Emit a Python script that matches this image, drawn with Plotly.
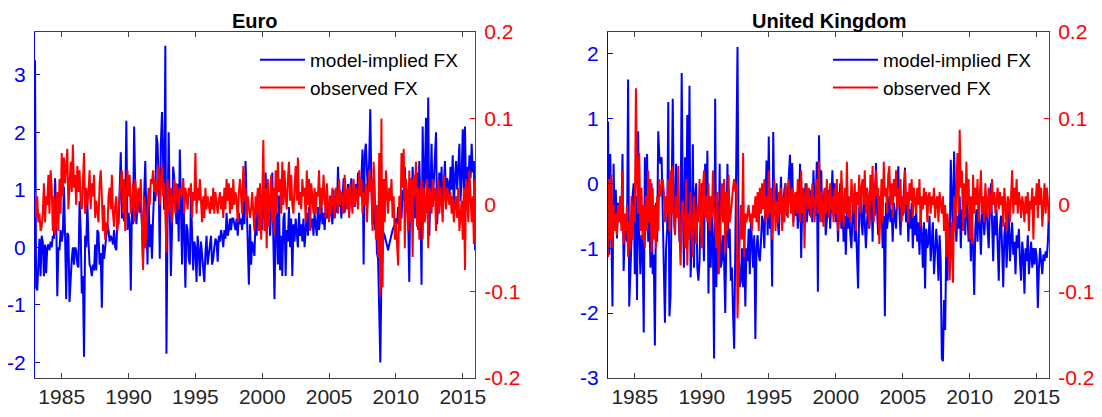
import numpy as np
import plotly.graph_objects as go

start_year = 1983
titles = ["Euro", "United Kingdom"]
legend_names = ["model-implied FX", "observed FX"]
x_tick_vals = [1985, 1990, 1995, 2000, 2005, 2010, 2015]
x_tick_text = ["1985", "1990", "1995", "2000", "2005", "2010", "2015"]
euro_left_ticks = [-2, -1, 0, 1, 2, 3]
euro_left_text = ["-2", "-1", "0", "1", "2", "3"]
uk_left_ticks = [-3, -2, -1, 0, 1, 2]
uk_left_text = ["-3", "-2", "-1", "0", "1", "2"]
right_ticks = [-0.2, -0.1, 0, 0.1, 0.2]
right_text = ["-0.2", "-0.1", "0", "0.1", "0.2"]

# Euro: model-implied FX (left axis), monthly 1983-2015
euro_model = [
    3.25, -0.70, -0.75, -0.30, 0.15, -0.50, 0.20, 0.10, -0.50, 0.05, -0.45, 0.00,
    0.05, -0.05, 0.10, 0.00, 0.20, 0.15, 1.20, 0.60, -0.85, 0.00, -0.05, 0.30,
    0.10, 0.25, 1.05, 0.20, -0.90, 0.25, 0.20, -0.95, -0.50, -0.20, 0.00, -0.30,
    0.00, -0.05, -0.30, -0.35, 0.80, 0.30, -0.80, -0.50, -1.90, 0.20, 0.00, 0.80,
    0.10, -0.30, -0.35, -0.50, -0.30, -0.40, 0.05, -0.40, 0.30, 0.25, -0.30, -0.10,
    -1.05, 0.05, -0.20, 0.00, 0.10, 0.40, 0.30, 0.10, 0.20, 0.15, 0.05, 0.30,
    0.00, -0.05, 0.50, 0.40, 1.00, 1.65, 0.50, 0.80, 0.45, 0.65, 2.20, 0.30,
    0.60, 0.40, -0.75, 0.65, 0.40, 2.10, 1.00, 0.40, 0.70, 1.00, 0.60, 0.80,
    0.40, -0.30, 0.90, 1.50, 0.50, -0.30, 0.90, 0.00, 0.40, -0.20, 0.50, 1.00,
    0.80, 1.95, 1.80, 1.20, -0.20, 1.80, 2.35, 1.50, 0.65, 3.50, -1.85, 0.50,
    2.00, 0.60, -0.50, 0.30, 1.40, 1.20, 0.60, 0.40, 1.10, 0.10, 1.70, 0.20,
    -0.30, 1.20, -0.20, -0.70, 0.40, 0.30, -0.20, -0.30, 0.90, 0.00, -0.40, 0.10,
    0.00, -0.60, 0.20, -0.05, -0.50, 0.10, -0.10, -0.30, -0.60, -0.10, 0.20, -0.30,
    -0.10, 0.00, 0.20, -0.30, -0.20, 0.00, 0.15, 0.10, -0.25, 0.20, 0.10, 0.30,
    0.20, 0.00, 0.30, 0.15, 0.60, 0.20, 0.30, 0.50, 0.30, 0.50, 0.50, 0.40,
    0.30, 0.50, 0.20, 0.60, 0.40, 0.50, 0.30, 0.80, 0.40, 1.50, 0.80, 0.20,
    -0.65, 0.40, -0.30, 0.10, 0.00, -0.15, 0.50, 0.20, 0.95, 0.40, 0.30, 0.60,
    0.30, 0.90, 0.50, 1.30, 0.70, 0.40, 0.90, 0.20, 0.60, 1.30, 0.10, -0.90,
    0.40, 0.60, -0.30, 0.90, -0.40, 0.20, -0.50, 0.50, 0.60, -0.50, 0.30, 0.10,
    0.70, 0.00, 0.50, -0.50, 0.40, 0.10, 0.50, 0.30, 0.00, 0.60, 0.20, 0.40,
    0.10, 0.50, 0.00, 0.30, 0.60, 0.20, 0.70, 0.30, 0.40, 0.50, 0.20, 0.60,
    0.40, 0.20, 0.70, 0.30, 0.50, 0.80, 0.40, 0.60, 0.30, 0.70, 0.50, 0.80,
    0.50, 0.90, 0.60, 0.40, 1.00, 0.50, 0.80, 0.60, 1.40, 0.70, 1.00, 0.50,
    0.80, 1.20, 0.60, 1.00, 0.70, 1.10, 0.60, 0.90, 1.20, 0.80, 1.00, 0.70,
    1.10, 0.80, 1.30, 0.90, 1.00, 1.20, 1.70, -0.30, 1.60, 1.80, 1.20, 0.90,
    1.50, 2.40, 1.00, 0.40, 0.80, 0.30, 0.60, -0.10, -0.20, -1.40, -2.00, -0.50,
    0.00, 0.25, 0.20, 0.10, 0.00, -0.05, 0.05, 0.15, 0.20, 0.30, 0.35, 0.40,
    0.50, 0.40, 0.70, 0.60, 0.90, 0.50, 1.00, 0.80, 1.40, 0.60, 1.00, 0.50,
    -0.60, 1.20, 0.70, 1.40, 0.90, 0.50, 1.00, 1.30, 0.30, 1.50, 0.80, -0.65,
    2.10, 0.90, 1.20, 2.25, 0.60, 2.60, 0.20, 1.30, 1.80, 0.70, 1.20, 1.50,
    2.00, 0.40, 0.90, 1.30, 0.80, 1.40, 0.60, 1.10, 1.50, 0.90, 1.20, 1.10,
    0.80, 1.40, 1.00, 1.60, 0.70, 1.20, 1.50, 1.00, 1.30, 1.80, 0.80, 1.20,
    2.05, 1.00, 2.10, 0.90, 1.40, 1.00, 1.60, 1.20, 1.80, 1.30, 1.50, -0.05,
]

# Euro: observed FX (right axis)
euro_obs = [
    0.015, -0.015, 0.010, -0.020, -0.010, -0.030, -0.025, -0.010, 0.025, -0.020, 0.010, 0.000,
    0.035, -0.010, 0.040, 0.020, -0.030, 0.010, -0.035, -0.020, 0.015, -0.030, 0.030, -0.010,
    0.060, 0.010, 0.055, 0.025, 0.045, 0.065, -0.005, 0.025, 0.050, 0.015, 0.070, 0.020,
    0.035, 0.000, 0.045, 0.015, 0.040, 0.005, -0.005, 0.025, 0.060, -0.010, 0.020, 0.000,
    0.015, 0.040, -0.005, 0.025, 0.010, 0.035, -0.015, 0.005, -0.005, -0.020, 0.025, 0.040,
    0.010, -0.030, 0.000, -0.040, -0.020, -0.030, 0.010, 0.020, -0.005, 0.035, -0.010, -0.025,
    0.000, 0.010, -0.030, -0.010, 0.020, 0.030, 0.040, -0.010, 0.030, -0.030, 0.020, 0.040,
    0.010, 0.035, -0.010, 0.000, 0.025, -0.020, 0.030, 0.010, -0.010, 0.020, 0.005, 0.030,
    -0.015, -0.075, 0.010, -0.050, -0.030, -0.010, 0.020, 0.000, 0.030, 0.025, 0.040, 0.015,
    0.030, 0.010, 0.020, 0.045, 0.000, 0.030, 0.045, 0.010, 0.025, -0.010, -0.055, 0.030,
    -0.010, 0.000, 0.020, -0.020, 0.010, 0.030, -0.010, 0.025, 0.015, -0.005, 0.020, 0.010,
    0.015, 0.030, -0.010, 0.020, 0.010, -0.005, 0.020, 0.010, 0.025, -0.015, 0.015, 0.005,
    0.060, -0.010, 0.020, 0.005, 0.030, 0.000, -0.020, 0.010, -0.015, 0.020, -0.005, 0.010,
    0.000, -0.010, 0.010, -0.005, 0.020, -0.010, 0.015, 0.005, -0.010, 0.005, 0.015, -0.005,
    0.010, -0.015, 0.020, -0.005, 0.030, 0.005, 0.025, -0.010, 0.020, -0.005, 0.030, 0.000,
    0.015, 0.005, -0.020, 0.015, 0.030, 0.010, -0.010, 0.045, 0.005, 0.020, -0.015, 0.010,
    -0.005, -0.015, -0.005, 0.015, -0.010, -0.030, 0.010, -0.010, 0.020, -0.030, 0.025, -0.040,
    0.010, 0.075, -0.030, 0.020, -0.050, 0.030, -0.025, 0.010, 0.035, -0.020, 0.020, -0.035,
    0.040, -0.010, 0.050, 0.015, 0.030, -0.010, 0.050, 0.000, 0.040, 0.010, -0.005, 0.030,
    0.050, 0.005, 0.035, 0.000, -0.010, 0.020, 0.045, 0.005, 0.055, 0.000, 0.015, -0.005,
    0.030, 0.010, 0.020, -0.020, 0.040, 0.000, 0.030, -0.030, 0.025, 0.010, -0.010, 0.020,
    -0.010, 0.015, 0.010, 0.040, -0.010, 0.020, 0.000, 0.035, 0.010, -0.015, 0.025, 0.005,
    -0.020, 0.010, -0.010, 0.020, 0.000, -0.015, 0.020, 0.010, -0.010, 0.030, 0.000, 0.015,
    0.010, -0.010, 0.035, 0.005, -0.005, 0.020, -0.015, 0.025, 0.010, -0.010, 0.030, 0.000,
    0.020, 0.005, -0.005, 0.040, 0.010, 0.030, -0.010, 0.015, 0.000, 0.025, -0.020, 0.010,
    0.040, 0.015, 0.030, -0.030, 0.050, 0.020, -0.040, 0.000, -0.060, 0.060, -0.105, 0.100,
    -0.095, 0.030, -0.020, 0.040, 0.010, -0.010, 0.020, 0.005, 0.030, -0.015, 0.010, -0.040,
    -0.020, -0.045, -0.070, 0.010, -0.030, 0.060, 0.020, 0.065, -0.050, 0.030, 0.015, -0.030,
    0.040, -0.020, 0.030, -0.060, 0.035, 0.010, 0.050, -0.025, 0.020, -0.040, 0.000, 0.030,
    -0.040, 0.020, -0.020, 0.000, 0.030, -0.050, 0.020, 0.010, -0.010, 0.030, 0.005, 0.020,
    -0.030, 0.010, 0.030, -0.010, 0.020, 0.005, -0.020, 0.035, 0.010, -0.005, 0.020, 0.010,
    0.000, 0.015, -0.010, 0.010, -0.020, 0.000, 0.010, -0.015, 0.020, -0.030, -0.010, 0.005,
    -0.040, 0.020, -0.075, 0.030, 0.010, -0.020, 0.040, 0.000, -0.020, 0.010, -0.045, 0.030,
]

# United Kingdom: model-implied FX (left axis)
uk_model = [
    0.95, -1.10, 0.45, -0.60, -1.90, 0.30, -0.70, -0.10, -0.85, -0.30, -0.50, -0.20,
    -0.50, 0.45, -1.35, -0.80, -0.70, -0.90, 1.60, -1.90, -1.50, -0.90, -0.20, 0.00,
    -1.40, -0.20, -1.80, 0.80, -0.80, -1.40, -0.80, -1.00, -2.30, 0.40, -0.60, 0.45,
    -0.90, -0.30, -1.30, 0.00, -1.40, -1.10, -2.50, -0.30, -0.90, 0.80, 0.40, 0.30,
    0.40, -0.50, -0.80, -2.15, -1.00, -0.70, 1.25, -2.05, -1.75, -0.60, 1.30, -0.50,
    -0.70, 0.30, -0.50, -0.30, -0.90, -0.60, 1.70, -0.30, -1.30, 0.40, -1.00, 1.05,
    -0.60, 1.50, -1.45, -0.80, 0.60, -1.30, -0.20, 0.00, -1.30, -1.50, -1.20, -0.40,
    0.00, -0.70, -1.20, 0.30, -0.50, 0.50, -1.70, -0.20, -1.30, -0.50, -1.00, -2.70,
    1.30, -1.60, -0.30, -1.40, 0.30, -1.30, -1.20, -0.80, -1.20, -2.00, -0.50, 0.30,
    -1.00, -0.70, -1.50, -1.30, -2.00, -2.55, -1.00, 0.20, 2.10, -1.00, -1.60, -1.50,
    -1.00, -1.60, -0.90, -1.90, -1.00, -1.20, -0.70, -1.40, -0.60, -0.90, -1.30, -0.80,
    -2.40, -1.00, -0.80, -1.10, -1.20, -0.90, -0.50, -0.60, -1.00, -0.30, 0.35, -0.80,
    0.72, -0.70, -0.40, -1.59, 0.79, -0.50, -0.20, 0.00, -0.60, -0.80, -0.30, 0.10,
    -0.60, -0.30, -0.10, 0.00, -0.50, -0.20, 0.10, 0.44, -0.40, 0.31, -0.60, -0.30,
    -0.50, -0.20, -0.70, -0.40, 0.30, -1.15, -0.30, -0.50, -0.20, 0.00, -0.60, -0.40,
    -0.20, -0.50, -0.10, -0.60, 0.20, -0.30, -0.50, 0.33, -1.67, 0.74, -0.40, 0.20,
    -0.60, -0.30, -0.10, -0.80, -0.50, -0.40, -0.10, -0.70, -0.30, 0.20, -0.50, 0.00,
    -0.60, -0.20, -0.90, -0.40, 0.00, -0.70, -0.30, -0.90, -0.50, -1.10, -0.40, -0.70,
    -0.30, -0.80, -1.00, -0.50, -0.20, -0.90, -0.60, -1.10, -1.62, -0.40, -0.10, -0.60,
    -0.80, -0.20, -0.50, -1.00, -0.60, -0.30, -0.70, -0.40, -0.10, -0.90, 0.00, -0.50,
    0.31, -0.40, -0.80, -0.20, -0.60, -0.30, -1.00, -0.50, -2.05, -0.30, -0.70, -0.50,
    -0.20, -0.60, -0.40, -0.90, -0.30, -0.50, -0.70, -0.20, 0.26, -0.40, -0.80, -0.30,
    -0.50, -0.10, 0.24, -0.60, -0.30, -0.90, -0.40, -0.70, -0.30, -1.00, -0.50, -0.80,
    -0.40, -0.90, -0.60, -1.10, -0.50, -0.80, -1.30, -0.60, -1.62, -0.70, -1.00, -0.90,
    -0.50, -1.20, -0.80, -0.60, -1.40, -0.90, -0.70, -1.00, -1.50, -0.80, -1.20, -2.70,
    -2.74, -1.80, -2.26, -0.90, -1.50, -0.60, -1.10, 0.36, -0.40, -0.80, 0.49, -0.30,
    -0.90, -0.50, -0.70, -0.20, -1.00, -0.40, -0.60, -0.30, -0.80, -0.10, -0.50, -0.90,
    -0.40, -1.20, -0.60, -1.00, -1.72, -0.70, -0.40, -0.90, -0.20, -0.60, -1.10, -0.50,
    -0.30, -0.80, -0.50, -0.20, -0.70, -1.00, -0.40, 0.00, -0.60, -1.20, -0.50, -0.80,
    -0.40, -0.90, -1.50, -0.70, -0.50, -1.00, -1.60, -0.80, -0.60, -1.30, -0.90, -0.40,
    -1.20, -0.80, -0.60, -1.10, -0.90, -1.40, -0.80, -1.00, -0.70, -1.20, -1.50, -0.90,
    -1.10, -1.70, -1.00, -1.20, -0.80, -1.40, -1.10, -0.90, -1.30, -1.00, -1.25, -1.00,
    -1.15, -1.92, -1.30, -1.00, -1.20, -1.40, -1.10, -1.20, -1.05, -1.15, -0.90, -0.40,
]

# United Kingdom: observed FX (right axis)
uk_obs = [
    -0.060, 0.030, -0.040, 0.035, -0.050, 0.000, -0.030, -0.010, -0.035, 0.000, -0.020, 0.010,
    -0.030, 0.040, -0.045, -0.010, -0.030, 0.000, -0.060, -0.020, -0.050, 0.010, -0.040, 0.000,
    -0.020, 0.135, 0.030, -0.010, 0.060, -0.030, 0.020, -0.040, 0.000, -0.050, 0.010, -0.030,
    0.040, -0.020, 0.030, -0.055, 0.020, -0.040, 0.000, -0.050, 0.010, -0.030, 0.030, 0.010,
    0.020, 0.030, 0.015, -0.020, 0.010, -0.010, 0.030, -0.030, 0.040, -0.010, 0.045, -0.020,
    -0.035, 0.010, -0.015, 0.045, -0.030, -0.070, -0.010, 0.005, -0.020, -0.050, 0.030, -0.070,
    -0.010, -0.040, 0.015, -0.020, -0.060, 0.010, -0.030, -0.045, 0.000, -0.020, 0.030, -0.010,
    -0.050, 0.020, 0.040, -0.015, 0.010, -0.020, 0.025, -0.030, 0.010, -0.015, 0.040, -0.010,
    -0.020, -0.050, 0.015, -0.080, -0.030, -0.010, 0.025, -0.020, 0.030, -0.055, 0.015, -0.030,
    0.035, -0.020, -0.010, 0.010, 0.020, 0.030, 0.015, 0.025, -0.131, -0.080, -0.040, 0.000,
    -0.040, 0.060, -0.060, -0.010, -0.020, -0.010, 0.000, -0.020, -0.010, -0.030, 0.000, -0.015,
    0.010, -0.020, 0.015, -0.030, 0.020, -0.010, 0.025, -0.005, 0.030, -0.020, 0.010, -0.015,
    0.040, -0.010, 0.020, -0.040, 0.010, 0.030, -0.030, 0.005, -0.020, 0.015, -0.010, 0.020,
    -0.030, 0.010, -0.020, 0.025, 0.000, -0.015, 0.030, 0.005, -0.010, 0.020, -0.025, 0.010,
    0.015, -0.010, 0.030, 0.000, -0.020, 0.040, -0.010, 0.020, -0.050, 0.010, 0.025, -0.005,
    0.020, 0.000, -0.015, 0.025, 0.010, -0.020, 0.005, 0.030, -0.010, 0.050, -0.020, 0.015,
    0.000, -0.025, 0.020, -0.010, 0.030, 0.005, -0.015, 0.025, -0.005, 0.010, -0.020, 0.020,
    -0.010, 0.030, -0.030, 0.015, -0.020, 0.040, 0.000, -0.025, 0.020, -0.010, 0.050, -0.015,
    0.010, -0.020, 0.030, 0.005, -0.010, 0.025, -0.030, 0.015, 0.000, 0.035, -0.010, 0.020,
    0.030, 0.000, 0.040, -0.010, 0.020, 0.010, -0.025, 0.035, 0.005, 0.045, -0.020, 0.015,
    0.040, 0.010, 0.020, -0.045, 0.005, 0.030, -0.020, 0.050, 0.010, 0.020, -0.010, 0.035,
    0.045, 0.000, 0.025, -0.015, 0.030, 0.010, 0.040, -0.005, 0.020, 0.000, 0.030, -0.020,
    0.010, -0.010, 0.040, 0.000, 0.015, -0.020, 0.025, 0.005, 0.030, -0.015, 0.020, 0.000,
    -0.010, 0.020, 0.000, 0.030, -0.025, 0.010, -0.005, 0.020, 0.000, 0.015, -0.020, 0.010,
    0.015, -0.010, 0.010, 0.000, 0.020, -0.015, 0.005, 0.010, -0.020, 0.015, 0.000, -0.010,
    0.010, -0.030, 0.000, -0.060, -0.010, -0.030, -0.087, -0.050, -0.020, -0.090, 0.010, -0.030,
    0.020, 0.060, -0.010, 0.087, 0.020, 0.040, -0.030, 0.025, -0.015, 0.050, 0.000, 0.030,
    -0.040, 0.010, -0.045, 0.035, -0.010, 0.020, 0.000, 0.030, -0.020, 0.015, 0.040, -0.010,
    0.010, -0.020, 0.025, 0.000, -0.015, 0.020, 0.005, -0.010, 0.030, 0.000, 0.015, -0.010,
    0.005, 0.020, -0.005, 0.015, 0.000, 0.010, -0.025, 0.020, 0.000, -0.030, 0.010, 0.005,
    -0.020, 0.015, 0.040, -0.010, 0.020, 0.000, 0.030, -0.010, 0.015, 0.005, -0.015, 0.010,
    0.000, -0.020, 0.010, -0.010, 0.015, -0.030, 0.005, -0.005, 0.020, -0.040, 0.010, 0.000,
    0.025, -0.015, 0.030, 0.000, 0.020, -0.025, 0.010, 0.025, -0.010, 0.020, 0.005, -0.020,
]

n = len(euro_model)
t = start_year + np.arange(n) / 12.0

W, H = 1102, 417
OFF = 8  # default page body margin in the browser
BLUE = "#0000ff"
RED = "#ff0000"
GRAY = "#404040"
FONT = "Liberation Sans, Arial, sans-serif"
TICK_FS = 21
LEG_FS = 19

def px_x(p):
    return (p - OFF) / W

def px_y(p):
    return 1 - (p - OFF) / H

dom_y = [px_y(378), px_y(32)]
dom_left = [px_x(35), px_x(475)]
dom_right = [px_x(608), px_x(1049)]

fig = go.Figure()
fig.add_trace(go.Scatter(x=t, y=euro_model, name=legend_names[0], mode="lines",
                         line=dict(color=BLUE, width=2), xaxis="x", yaxis="y", legend="legend"))
fig.add_trace(go.Scatter(x=t, y=euro_obs, name=legend_names[1], mode="lines",
                         line=dict(color=RED, width=2), xaxis="x", yaxis="y2", legend="legend"))
fig.add_trace(go.Scatter(x=t, y=uk_model, name=legend_names[0], mode="lines",
                         line=dict(color=BLUE, width=2), xaxis="x2", yaxis="y3", legend="legend2"))
fig.add_trace(go.Scatter(x=t, y=uk_obs, name=legend_names[1], mode="lines",
                         line=dict(color=RED, width=2), xaxis="x2", yaxis="y4", legend="legend2"))

xrange = [t[0], t[-1]]
xcommon = dict(range=xrange, tickvals=x_tick_vals, ticktext=x_tick_text, ticks="inside",
               ticklen=5, tickcolor=GRAY, showline=True, linecolor=GRAY, linewidth=1,
               mirror="ticks", showgrid=False, zeroline=False,
               tickfont=dict(family=FONT, size=TICK_FS, color="#262626"), automargin=False)

def yleft(rng, tv, tt, anchor):
    return dict(range=rng, tickvals=tv, ticktext=tt, ticks="inside", ticklen=5,
                tickcolor=BLUE, showline=True, linecolor=BLUE, linewidth=1,
                showgrid=False, zeroline=False, side="left", anchor=anchor,
                ticklabelstandoff=4,
                tickfont=dict(family=FONT, size=TICK_FS, color=BLUE), automargin=False,
                domain=dom_y)

def yright(overlay, anchor):
    return dict(range=[-0.2, 0.2], tickvals=right_ticks, ticktext=right_text,
                ticks="inside", ticklen=5, tickcolor=RED, showline=True, linecolor=RED,
                linewidth=1, showgrid=False, zeroline=False, side="right",
                overlaying=overlay, anchor=anchor, ticklabelstandoff=4,
                tickfont=dict(family=FONT, size=TICK_FS, color=RED), automargin=False)

legend_common = dict(font=dict(family=FONT, size=LEG_FS, color="#000000"), bgcolor="rgba(0,0,0,0)",
                     borderwidth=0, xanchor="left", yanchor="top", tracegroupgap=0,
                     itemwidth=45, traceorder="normal")

fig.update_layout(
    width=W, height=H,
    margin=dict(l=0, r=0, t=0, b=0),
    paper_bgcolor="white", plot_bgcolor="white",
    showlegend=True,
    xaxis=dict(domain=dom_left, anchor="y", **xcommon),
    xaxis2=dict(domain=dom_right, anchor="y3", **xcommon),
    yaxis=yleft([-2.27, 3.74], euro_left_ticks, euro_left_text, "x"),
    yaxis2=yright("y", "x"),
    yaxis3=yleft([-3, 2.33], uk_left_ticks, uk_left_text, "x2"),
    yaxis4=yright("y3", "x2"),
    legend=dict(x=px_x(255), y=px_y(41), **legend_common),
    legend2=dict(x=px_x(828), y=px_y(41), **legend_common),
    annotations=[
        dict(text="<b>" + titles[0] + "</b>", x=(dom_left[0] + dom_left[1]) / 2, y=1,
             xref="paper", yref="paper", showarrow=False, xanchor="center", yanchor="top",
             font=dict(family=FONT, size=20, color="#000000")),
        dict(text="<b>" + titles[1] + "</b>", x=(dom_right[0] + dom_right[1]) / 2, y=1,
             xref="paper", yref="paper", showarrow=False, xanchor="center", yanchor="top",
             font=dict(family=FONT, size=20, color="#000000")),
    ],
)

fig.write_html("out.html")
